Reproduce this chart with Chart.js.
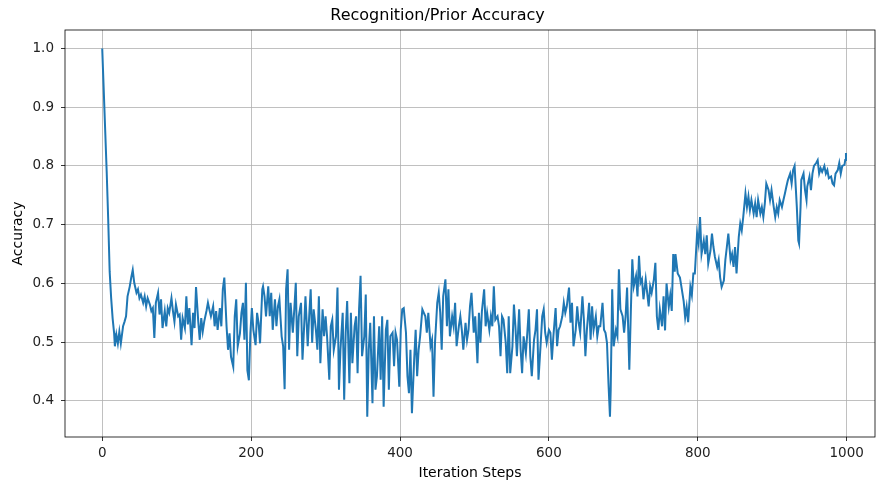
<!DOCTYPE html>
<html><head><meta charset="utf-8">
<script src="https://cdn.jsdelivr.net/npm/chart.js@4.4.1/dist/chart.umd.min.js"></script>
<style>html,body{margin:0;padding:0;background:#fff}#wrap{width:876px;height:486px;position:relative}</style>
</head><body><div id="wrap"><canvas id="c"></canvas></div>
<script>
const steps = [
0,2,4,6,8,10,12,14,16,17,19,21,23,25,28,30,32,34,37,39,41,43,46,48,50,52,55,57,59,61,64,66,68,70,72,75,77,79,81,84,86,88,90,93,95,97,99,102,104,106,108,111,113,115,117,120,122,124,126,129,131,133,135,137,140,142,144,146,149,151,153,155,158,160,162,164,167,169,171,173,176,178,180,182,185,187,189,191,193,195,197,199,201,203,206,208,210,212,215,216,218,220,223,225,227,229,232,234,236,238,241,243,245,247,249,
251,253,256,258,260,262,264,267,269,271,273,276,278,280,282,284,287,289,291,293,296,298,300,302,305,307,309,311,314,316,318,320,323,325,327,329,332,334,336,339,341,343,345,347,349,352,354,356,358,360,363,365,367,369,372,374,376,378,381,383,385,387,390,392,394,396,399,401,403,405,408,410,412,414,416,419,421,423,425,427,430,432,434,436,438,441,443,445,447,450,452,454,456,458,461,463,465,467,470,472,474,476,479,481,483,485,488,490,492,494,496,499,
501,504,506,508,510,513,515,517,520,522,524,526,528,531,533,535,537,539,542,544,546,548,551,553,555,557,560,562,564,566,569,571,573,575,577,580,582,584,586,589,591,593,595,597,600,602,604,606,609,611,613,615,618,620,622,624,627,629,631,633,636,638,640,642,645,647,649,651,654,656,658,660,663,665,667,669,672,674,676,678,680,682,683,685,687,690,692,694,696,699,701,703,705,708,710,712,714,717,719,721,723,725,727,730,732,734,736,738,741,743,745,747,749,752,754,
756,758,761,763,765,767,769,770,773,776,778,781,783,785,787,790,792,794,796,799,801,803,805,808,810,812,814,817,819,821,823,826,828,830,832,835,837,839,841,844,846,848,850,852,855,857,859,861,864,866,868,870,872,875,877,879,881,884,886,888,890,892,895,897,899,902,904,906,908,910,913,915,917,919,921,924,926,928,930,933,935,936,938,939,942,944,946,947,950,952,954,956,959,961,963,965,967,970,972,974,976,979,981,983,985,988,990,992,994,997,998,999
];
const accuracy = [
1.0,0.93,0.86,0.79,0.71,0.62,0.575,0.54,0.515,0.493,0.513,0.498,0.518,0.498,0.527,0.535,0.544,0.578,0.595,0.61,0.623,0.601,0.584,0.59,0.575,0.581,0.567,0.578,0.561,0.575,0.564,0.553,0.558,0.507,0.567,0.584,0.547,0.573,0.524,0.553,0.527,0.558,0.55,0.575,0.553,0.535,0.564,0.544,0.547,0.504,0.541,0.524,0.578,0.53,0.558,0.495,0.55,0.524,0.594,0.535,0.504,0.541,0.518,0.535,0.553,0.567,0.555,0.544,0.561,0.527,0.553,0.521,0.558,0.527,0.59,0.61,0.527,0.487,0.515,0.475,0.458,0.544,0.573,0.493,0.515,0.55,0.567,0.504,0.601,0.452,0.435,0.515,0.558,0.521,0.495,0.55,0.533,0.498,0.59,0.595,0.578,0.544,0.595,0.544,0.584,0.521,0.573,0.527,0.561,0.573,0.51,0.493,0.42,0.59,0.624,
0.487,0.567,0.516,0.556,0.601,0.476,0.544,0.567,0.47,0.521,0.578,0.493,0.544,0.59,0.499,0.556,0.521,0.487,0.578,0.464,0.556,0.51,0.544,0.51,0.436,0.527,0.538,0.487,0.51,0.593,0.419,0.487,0.55,0.402,0.516,0.57,0.43,0.55,0.464,0.527,0.544,0.447,0.556,0.613,0.476,0.51,0.581,0.373,0.487,0.533,0.396,0.544,0.419,0.442,0.527,0.436,0.544,0.39,0.521,0.538,0.419,0.51,0.516,0.459,0.516,0.504,0.424,0.521,0.556,0.558,0.516,0.442,0.413,0.487,0.379,0.47,0.521,0.442,0.487,0.51,0.556,0.55,0.544,0.516,0.55,0.493,0.504,0.407,0.499,0.567,0.584,0.55,0.487,0.578,0.607,0.527,0.59,0.51,0.544,0.527,0.567,0.493,0.527,0.544,0.521,0.487,0.533,0.504,0.521,0.561,0.584,0.516,
0.544,0.464,0.55,0.499,0.553,0.59,0.527,0.55,0.521,0.544,0.527,0.595,0.538,0.544,0.527,0.476,0.544,0.538,0.499,0.447,0.544,0.447,0.493,0.564,0.527,0.476,0.556,0.487,0.447,0.51,0.481,0.516,0.556,0.476,0.442,0.504,0.521,0.556,0.436,0.499,0.544,0.556,0.516,0.499,0.521,0.516,0.47,0.51,0.558,0.493,0.521,0.527,0.544,0.567,0.55,0.561,0.593,0.533,0.567,0.493,0.521,0.561,0.533,0.516,0.578,0.538,0.476,0.521,0.567,0.504,0.561,0.521,0.544,0.51,0.527,0.527,0.567,0.521,0.516,0.499,0.43,0.373,0.419,0.59,0.493,0.521,0.51,0.624,0.556,0.544,0.516,0.544,0.593,0.453,0.55,0.641,0.595,0.613,0.578,0.647,0.601,0.607,0.573,0.607,0.584,0.561,0.595,0.584,0.607,0.635,0.544,0.521,0.556,0.527,0.578,
0.52,0.6,0.56,0.58,0.553,0.65,0.62,0.65,0.617,0.61,0.594,0.57,0.542,0.56,0.534,0.594,0.58,0.617,0.617,0.685,0.668,0.713,0.65,0.673,0.65,0.682,0.634,0.656,0.685,0.662,0.645,0.628,0.64,0.61,0.594,0.605,0.64,0.662,0.685,0.64,0.65,0.628,0.662,0.617,0.679,0.702,0.69,0.713,0.753,0.73,0.748,0.725,0.742,0.719,0.736,0.713,0.742,0.719,0.73,0.713,0.736,0.77,0.759,0.742,0.759,0.73,0.713,0.73,0.719,0.742,0.73,0.742,0.753,0.765,0.776,0.787,0.77,0.793,0.8,0.73,0.673,0.668,0.73,0.776,0.787,0.759,0.742,0.765,0.782,0.759,0.787,0.8,0.805,0.81,0.787,0.796,0.79,0.8,0.787,0.793,0.779,0.782,0.77,0.767,0.787,0.793,0.805,0.787,0.8,0.802,0.81,0.822
];
const xTicks = [0, 200, 400, 600, 800, 1000];
const yTicks = [0.4, 0.5, 0.6, 0.7, 0.8, 0.9, 1.0];
const chartTitle = 'Recognition/Prior Accuracy';
const xLabel = 'Iteration Steps';
const yLabel = 'Accuracy';

const FONT = 'DejaVu Sans';
const points = steps.map((s, i) => ({x: s, y: accuracy[i]}));

const frame = {
  id: 'frame',
  afterDraw(chart) {
    const {ctx, chartArea: a} = chart;
    ctx.save();
    ctx.strokeStyle = '#000';
    ctx.lineWidth = 0.8;
    ctx.strokeRect(a.left, a.top, a.right - a.left, a.bottom - a.top);
    ctx.restore();
  }
};

new Chart(document.getElementById('c'), {
  type: 'line',
  data: {
    datasets: [{
      data: points,
      borderColor: '#1f77b4',
      borderWidth: 2,
      pointRadius: 0,
      tension: 0,
      fill: false
    }]
  },
  options: {
    responsive: true,
    maintainAspectRatio: false,
    animation: false,
    devicePixelRatio: 1,
    layout: {padding: {left: 0, right: 1, top: 0, bottom: 0}},
    plugins: {
      legend: {display: false},
      tooltip: {enabled: false},
      title: {
        display: true,
        text: chartTitle,
        color: '#000',
        font: {family: FONT, size: 16, weight: 'normal'},
        padding: {top: 6, bottom: 4.8}
      }
    },
    scales: {
      x: {
        type: 'linear',
        min: -50,
        max: 1038,
        afterBuildTicks(s) { s.ticks = xTicks.map(v => ({value: v})); },
        afterFit(s) { s.height = 49; },
        ticks: {
          color: '#222',
          font: {family: FONT, size: 13.5},
          padding: 4,
          maxRotation: 0,
          callback: v => String(v)
        },
        grid: {color: '#b0b0b0', lineWidth: 0.8, tickColor: '#000', tickLength: 4, tickWidth: 0.8},
        border: {display: false},
        title: {display: true, text: xLabel, color: '#000', font: {family: FONT, size: 14}, padding: {top: 0, bottom: 4.5}}
      },
      y: {
        type: 'linear',
        min: 0.3385,
        max: 1.0315,
        afterBuildTicks(s) { s.ticks = yTicks.map(v => ({value: v})); },
        afterFit(s) { s.width = 65; },
        ticks: {
          color: '#222',
          font: {family: FONT, size: 13.5},
          padding: 7,
          callback: v => Number(v).toFixed(1)
        },
        grid: {color: '#b0b0b0', lineWidth: 0.8, tickColor: '#000', tickLength: 4, tickWidth: 0.8},
        border: {display: false},
        title: {display: true, text: yLabel, color: '#000', font: {family: FONT, size: 14}, padding: {top: 9.5, bottom: 0}}
      }
    }
  },
  plugins: [frame]
});
</script>
</body></html>
